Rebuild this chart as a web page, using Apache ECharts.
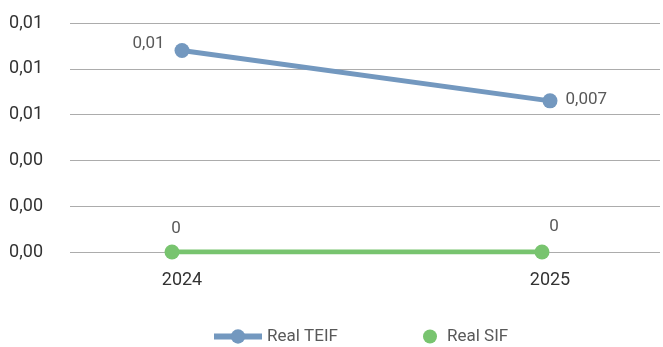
<!DOCTYPE html>
<html>
<head>
<meta charset="utf-8">
<style>
  html, body { margin: 0; padding: 0; background: #ffffff; }
  #chart { width: 663px; height: 347px; }
</style>
<script src="https://cdn.jsdelivr.net/npm/echarts@6/dist/echarts.min.js"></script>
</head>
<body>
<div id="chart"></div>
<script>
// Years on the horizontal axis
const years = ['2024', '2025'];

// Series values
const realTEIF = [0.0088, 0.0066];
const realSIF = [0, 0];

// Data labels as printed next to the points
const labelsTEIF = ['0,01', '0,007'];
const labelsSIF = ['0', '0'];

// Value axis range
const yMin = 0;
const yMax = 0.01;
const yStep = 0.002;

const blue = '#7398bf';
const green = '#78c46f';
const textFont = 'Roboto, "Noto Sans", sans-serif';

const chart = echarts.init(document.getElementById('chart'), null, { renderer: 'canvas' });

const hiddenY = (gi) => ({
  type: 'value', gridIndex: gi, min: yMin, max: yMax, interval: yStep,
  show: false, splitLine: { show: false }
});

const legendText = { color: '#595959', fontSize: 17, fontFamily: textFont };

chart.setOption({
  animation: false,
  textStyle: { fontFamily: textFont },
  grid: [
    // frame with the horizontal gridlines and value labels
    { left: 70, right: 3, top: 23, height: 229 },
    // TEIF line
    { left: 182, width: 368, top: 23, height: 229 },
    // SIF line
    { left: 172, width: 370, top: 23, height: 229 }
  ],
  xAxis: [
    { type: 'category', gridIndex: 0, data: years, show: false },
    {
      type: 'category', gridIndex: 1, data: years, boundaryGap: false,
      axisLine: { show: false }, axisTick: { show: false },
      axisLabel: { color: '#333333', fontSize: 18, margin: 19, fontFamily: textFont }
    },
    { type: 'category', gridIndex: 2, data: years, boundaryGap: false, show: false }
  ],
  yAxis: [
    {
      type: 'value', gridIndex: 0, min: yMin, max: yMax, interval: yStep,
      axisLine: { show: false }, axisTick: { show: false },
      axisLabel: {
        color: '#333333', fontSize: 18, margin: 27, fontFamily: textFont,
        formatter: (v) => v.toFixed(2).replace('.', ',')
      },
      splitLine: { lineStyle: { color: '#acacac', width: 1 } }
    },
    hiddenY(1),
    hiddenY(2)
  ],
  legend: [
    {
      left: 211, top: 328, padding: 0,
      itemWidth: 48, itemHeight: 18,
      textStyle: legendText,
      data: [{ name: 'Real TEIF', lineStyle: { width: 6 } }]
    },
    {
      left: 423, top: 328, padding: 0,
      itemWidth: 14, itemHeight: 14,
      textStyle: Object.assign({}, legendText, { padding: [0, 0, 0, 5] }),
      data: [{ name: 'Real SIF', icon: 'circle', itemStyle: { color: green } }]
    }
  ],
  series: [
    {
      name: 'Real TEIF',
      type: 'line',
      xAxisIndex: 1, yAxisIndex: 1,
      symbol: 'circle',
      symbolSize: 15,
      lineStyle: { color: blue, width: 5 },
      itemStyle: { color: blue },
      label: {
        show: true,
        color: '#595959', fontSize: 17, fontFamily: textFont,
        formatter: (p) => labelsTEIF[p.dataIndex]
      },
      data: realTEIF.map((v, i) => ({
        value: v,
        label: i === 0
          ? { position: 'left', distance: 10, offset: [0, -7] }
          : { position: 'right', distance: 8, offset: [0, -1] }
      }))
    },
    {
      name: 'Real SIF',
      type: 'line',
      xAxisIndex: 2, yAxisIndex: 2,
      symbol: 'circle',
      symbolSize: 15,
      lineStyle: { color: green, width: 5 },
      itemStyle: { color: green },
      label: {
        show: true, position: 'top', distance: 7,
        color: '#595959', fontSize: 17, fontFamily: textFont,
        formatter: (p) => labelsSIF[p.dataIndex]
      },
      data: realSIF.map((v, i) => ({
        value: v,
        label: { offset: i === 0 ? [4, 0] : [12, -2] }
      }))
    }
  ]
});
</script>
</body>
</html>
